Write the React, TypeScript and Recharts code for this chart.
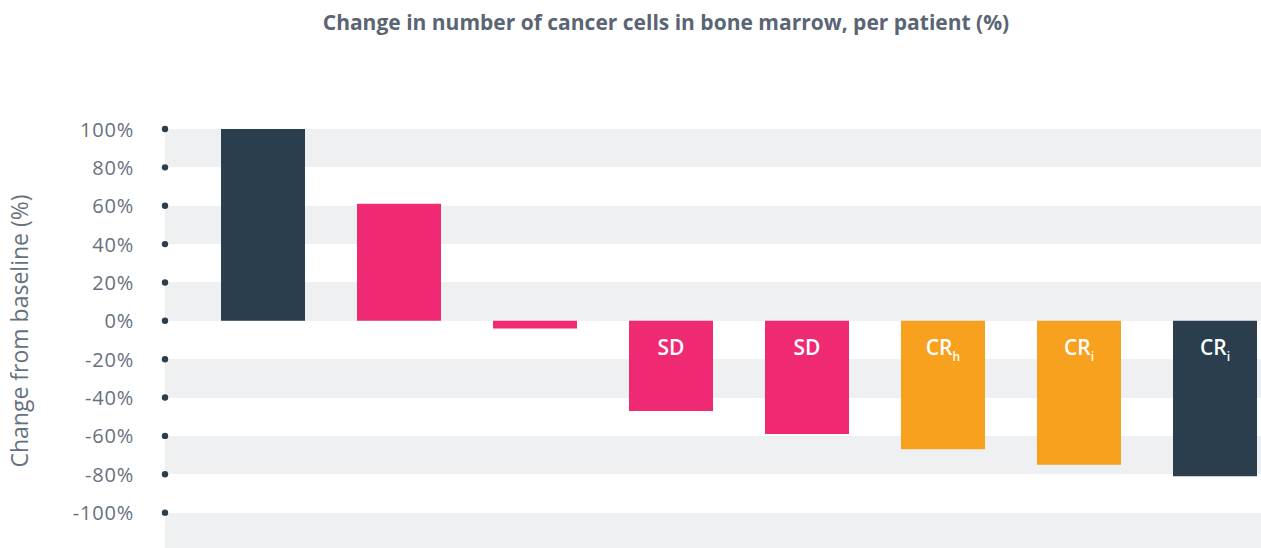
// Waterfall of per-patient change in bone-marrow cancer cells, with response
// labels (SD / CR) written inside the negative bars.

import { Bar, BarChart, CartesianGrid, Cell, LabelList, XAxis, YAxis } from "recharts";

const patients = ["P1", "P2", "P3", "P4", "P5", "P6", "P7", "P8"];
const changePct = [100, 61, -4, -47, -59, -67, -75, -81];
const responseMain = ["", "", "", "SD", "SD", "CR", "CR", "CR"];
const responseSub = ["", "", "", "", "", "h", "i", "i"];
const yTicks = [-100, -80, -60, -40, -20, 0, 20, 40, 60, 80, 100];

const DARK = "#2b3e4d";
const PINK = "#ef2a73";
const ORANGE = "#f7a11f";
const barColors = [DARK, PINK, PINK, PINK, PINK, ORANGE, ORANGE, DARK];

const AXIS_TEXT = "#67717e";
const FONT = "'Open Sans', Lato, sans-serif";

const data = patients.map((p, i) => ({
  patient: p,
  change: changePct[i],
  main: responseMain[i],
  sub: responseSub[i],
}));

function DotTick({ x, y, payload }: any) {
  return (
    <g>
      <circle cx={x} cy={y} r={3.2} fill={DARK} />
      <text
        x={x - 31}
        y={y}
        textAnchor="end"
        dominantBaseline="central"
        fill={AXIS_TEXT}
        fontSize={20}
        fontFamily={FONT}
        letterSpacing={0.8}
      >
        {payload.value}%
      </text>
    </g>
  );
}

function ResponseLabel({ x, y, width, height, index }: any) {
  const d = data[index];
  if (!d || !d.main) return null;
  const top = Math.min(y, y + height);
  const cx = x + width / 2;
  return (
    <text
      x={cx}
      y={top + 26}
      textAnchor="middle"
      dominantBaseline="central"
      fill="#ffffff"
      fontSize={21}
      fontWeight={600}
      fontFamily={FONT}
    >
      {d.main}
      {d.sub && (
        <tspan fontSize={12} fontWeight={600} dy={9}>
          {d.sub}
        </tspan>
      )}
    </text>
  );
}

const yLabel = () => (
  <text
    x={19}
    y={331}
    transform="rotate(-90 19 331)"
    textAnchor="middle"
    dominantBaseline="central"
    fill={AXIS_TEXT}
    fontSize={23}
    fontFamily={FONT}
  >
    Change from baseline (%)
  </text>
);

export default function App() {
  return (
    <div
      style={{
        position: "fixed",
        top: 0,
        left: 0,
        width: 1261,
        height: 548,
        overflow: "hidden",
        background: "#ffffff",
      }}
    >
      <div
        style={{
          position: "absolute",
          top: 8,
          left: 0,
          width: 1332,
          textAlign: "center",
          fontFamily: FONT,
          fontWeight: 700,
          fontSize: 21,
          color: "#5a6574",
        }}
      >
        Change in number of cancer cells in bone marrow, per patient (%)
      </div>
      <BarChart
        width={1283}
        height={551}
        data={data}
        margin={{ top: 129, right: 0, bottom: 0, left: 0 }}
        barCategoryGap={0}
      >
        <CartesianGrid
          vertical={false}
          stroke="transparent"
          horizontalFill={["#eff0f2", "#ffffff"]}
          fillOpacity={1}
        />
        <XAxis dataKey="patient" hide padding={{ left: 30, right: 0 }} />
        <YAxis
          type="number"
          domain={[-120, 100]}
          ticks={yTicks}
          interval={0}
          width={165}
          axisLine={false}
          tickLine={false}
          tickSize={0}
          tickMargin={0}
          tick={<DotTick />}
          label={yLabel}
        />
        <Bar dataKey="change" barSize={84} isAnimationActive={false}>
          {data.map((d, i) => (
            <Cell key={d.patient} fill={barColors[i]} />
          ))}
          <LabelList dataKey="main" content={<ResponseLabel />} />
        </Bar>
      </BarChart>
    </div>
  );
}
